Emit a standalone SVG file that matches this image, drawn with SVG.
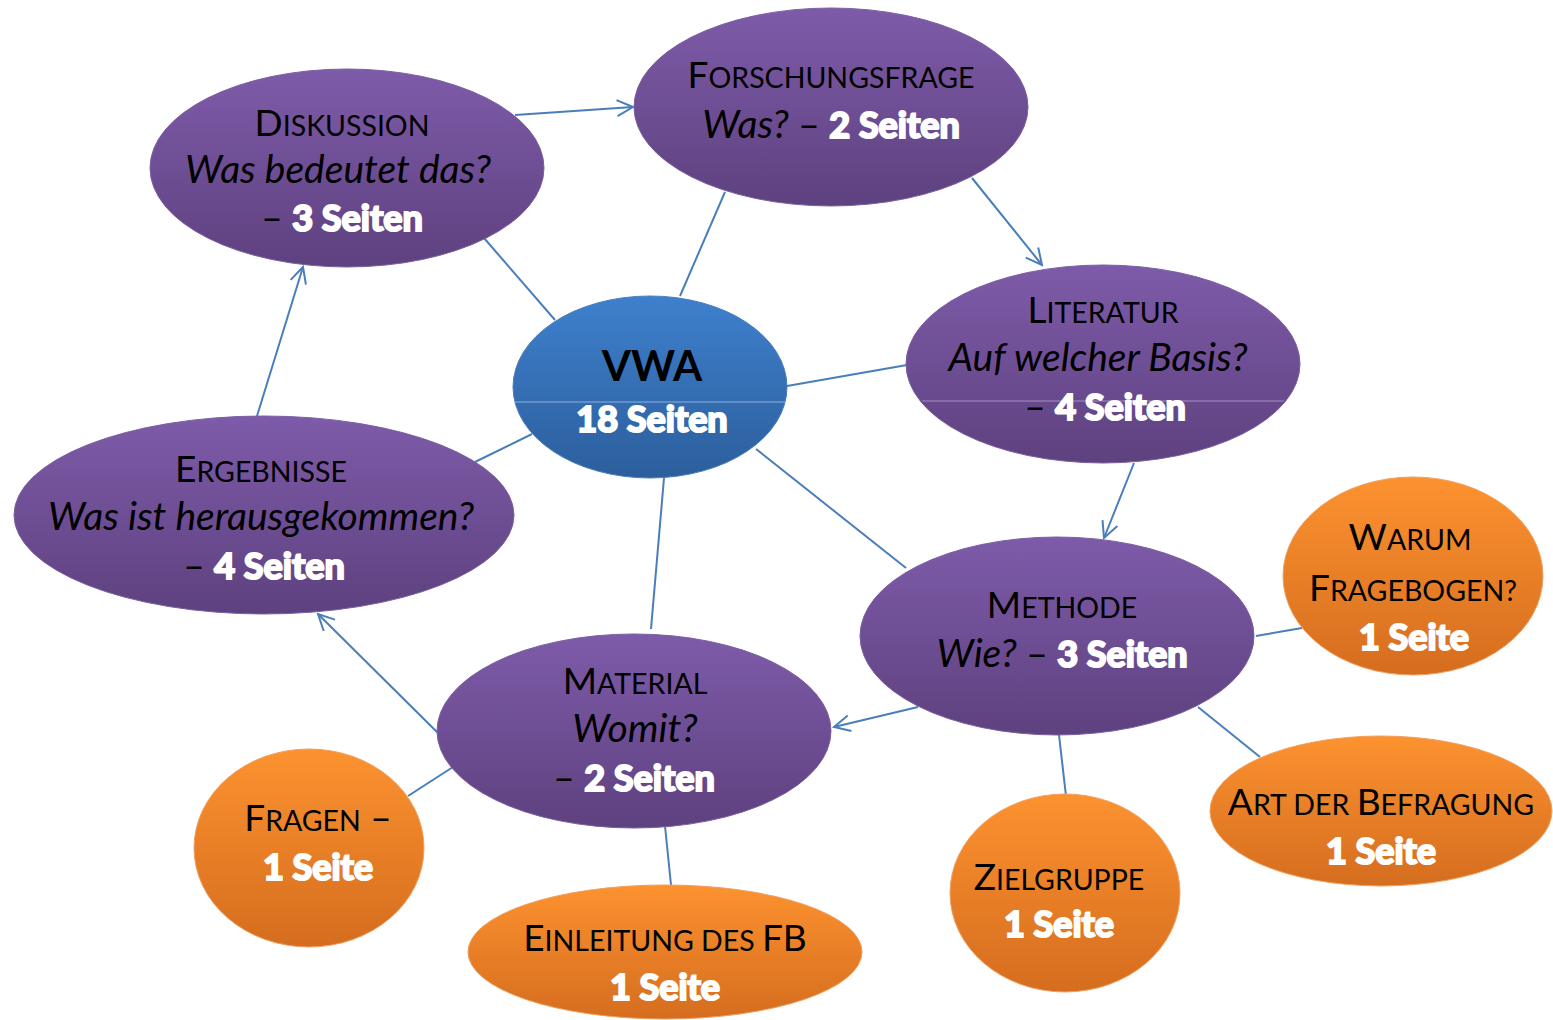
<svg xmlns="http://www.w3.org/2000/svg" width="1553" height="1020" viewBox="0 0 1553 1020">
<defs>
<linearGradient id="gP" x1="0" y1="0" x2="0" y2="1"><stop offset="0" stop-color="#7e5ba9"/><stop offset="1" stop-color="#5e417f"/></linearGradient>
<linearGradient id="gO" x1="0" y1="0" x2="0" y2="1"><stop offset="0" stop-color="#fc922f"/><stop offset="1" stop-color="#d56d1f"/></linearGradient>
<linearGradient id="gB" x1="0" y1="0" x2="0" y2="1"><stop offset="0" stop-color="#3e80cd"/><stop offset="1" stop-color="#2c5e9c"/></linearGradient>
<marker id="arr" viewBox="0 0 20 20" refX="18" refY="10" markerWidth="20" markerHeight="20" markerUnits="userSpaceOnUse" orient="auto">
<path d="M2,2 L18,10 L2,18" fill="none" stroke="#4a7ebb" stroke-width="2"/>
</marker>
</defs>
<style>
.p{fill:url(#gP);stroke:#7a60a0;stroke-width:1}
.o{fill:url(#gO);stroke:#f0a060;stroke-width:1}
.b{fill:url(#gB);stroke:#4a7ebb;stroke-width:1}
.c line{stroke:#4a7ebb;stroke-width:2}
.a{marker-end:url(#arr)}
text{font-family:Lato,"Open Sans","Liberation Sans",sans-serif;font-size:37px;fill:#000;text-anchor:middle}
.sc{font-size:28.5px}
.i{font-style:italic;font-size:39px}
.w{fill:#fff;font-weight:bold;stroke:#fff;stroke-width:2.2;font-size:36px}
.vwa{font-weight:bold;font-size:42px}
</style>
<g class="c">
<line class="a" x1="515" y1="115" x2="633" y2="107"/>
<line class="a" x1="972" y1="178" x2="1042" y2="265"/>
<line class="a" x1="1134" y1="463" x2="1104" y2="538"/>
<line class="a" x1="918" y1="707" x2="834" y2="727"/>
<line class="a" x1="440" y1="735" x2="318" y2="614"/>
<line class="a" x1="257" y1="416" x2="303" y2="267"/>
<line x1="555" y1="320" x2="484" y2="238"/>
<line x1="680" y1="296" x2="725" y2="192"/>
<line x1="787" y1="386" x2="907" y2="365"/>
<line x1="756" y1="449" x2="906" y2="568"/>
<line x1="664" y1="478" x2="651" y2="629"/>
<line x1="532" y1="434" x2="475" y2="462"/>
<line x1="1256" y1="636" x2="1302" y2="628"/>
<line x1="1198" y1="707" x2="1260" y2="757"/>
<line x1="1059" y1="735" x2="1066" y2="796"/>
<line x1="453" y1="767" x2="408" y2="796"/>
<line x1="665" y1="826" x2="671" y2="885"/>
</g>
<g id="diskussion">
<ellipse class="p" cx="347" cy="168" rx="197" ry="99"/>
<text x="342" y="136">D<tspan class="sc">ISKUSSION</tspan></text>
<text class="i" x="338" y="183">Was bedeutet das?</text>
<text x="342" y="231">– <tspan class="w">3 Seiten</tspan></text>
</g>
<g id="forschungsfrage">
<ellipse class="p" cx="831" cy="107" rx="197" ry="99"/>
<text x="831" y="88">F<tspan class="sc">ORSCHUNGSFRAGE</tspan></text>
<text x="831" y="138"><tspan class="i">Was?</tspan> – <tspan class="w">2 Seiten</tspan></text>
</g>
<g id="vwa">
<ellipse class="b" cx="650" cy="387" rx="137" ry="91"/>
<line x1="514" y1="402" x2="786" y2="402" stroke="#8fb0dc" stroke-width="1"/>
<text class="vwa" x="652" y="381">VWA</text>
<text class="w" x="652" y="432">18 Seiten</text>
</g>
<g id="literatur">
<ellipse class="p" cx="1103" cy="364" rx="197" ry="99"/>
<line x1="922" y1="401" x2="1284" y2="401" stroke="#a58fc4" stroke-width="1"/>
<text x="1103" y="323">L<tspan class="sc">ITERATUR</tspan></text>
<text class="i" x="1098" y="371">Auf welcher Basis?</text>
<text x="1105" y="420">–  <tspan class="w">4 Seiten</tspan></text>
</g>
<g id="ergebnisse">
<ellipse class="p" cx="264" cy="515" rx="250" ry="99"/>
<text x="261" y="482">E<tspan class="sc">RGEBNISSE</tspan></text>
<text class="i" x="261" y="530">Was ist herausgekommen?</text>
<text x="264" y="579">– <tspan class="w">4 Seiten</tspan></text>
</g>
<g id="methode">
<ellipse class="p" cx="1057" cy="636" rx="197" ry="99"/>
<text x="1062" y="618">M<tspan class="sc">ETHODE</tspan></text>
<text x="1062" y="667"><tspan class="i">Wie?</tspan> – <tspan class="w">3 Seiten</tspan></text>
</g>
<g id="material">
<ellipse class="p" cx="634" cy="731" rx="197" ry="97"/>
<text x="635" y="694">M<tspan class="sc">ATERIAL</tspan></text>
<text class="i" x="635" y="742">Womit?</text>
<text x="634" y="791">– <tspan class="w">2 Seiten</tspan></text>
</g>
<g id="warum">
<ellipse class="o" cx="1413" cy="576" rx="130" ry="99"/>
<text x="1410" y="550">W<tspan class="sc">ARUM</tspan></text>
<text x="1413" y="601">F<tspan class="sc">RAGEBOGEN?</tspan></text>
<text class="w" x="1414" y="650">1 Seite</text>
</g>
<g id="art">
<ellipse class="o" cx="1381" cy="811" rx="171" ry="75"/>
<text x="1381" y="815">A<tspan class="sc">RT DER </tspan>B<tspan class="sc">EFRAGUNG</tspan></text>
<text class="w" x="1381" y="864">1 Seite</text>
</g>
<g id="zielgruppe">
<ellipse class="o" cx="1065" cy="893" rx="115" ry="99"/>
<text x="1059" y="890">Z<tspan class="sc">IELGRUPPE</tspan></text>
<text class="w" x="1059" y="937">1 Seite</text>
</g>
<g id="einleitung">
<ellipse class="o" cx="665" cy="952" rx="197" ry="67"/>
<text x="665" y="951">E<tspan class="sc">INLEITUNG DES </tspan>FB</text>
<text class="w" x="665" y="1000">1 Seite</text>
</g>
<g id="fragen">
<ellipse class="o" cx="309" cy="848" rx="115" ry="99"/>
<text x="318" y="831">F<tspan class="sc">RAGEN</tspan> –</text>
<text class="w" x="318" y="880">1 Seite</text>
</g>
</svg>
